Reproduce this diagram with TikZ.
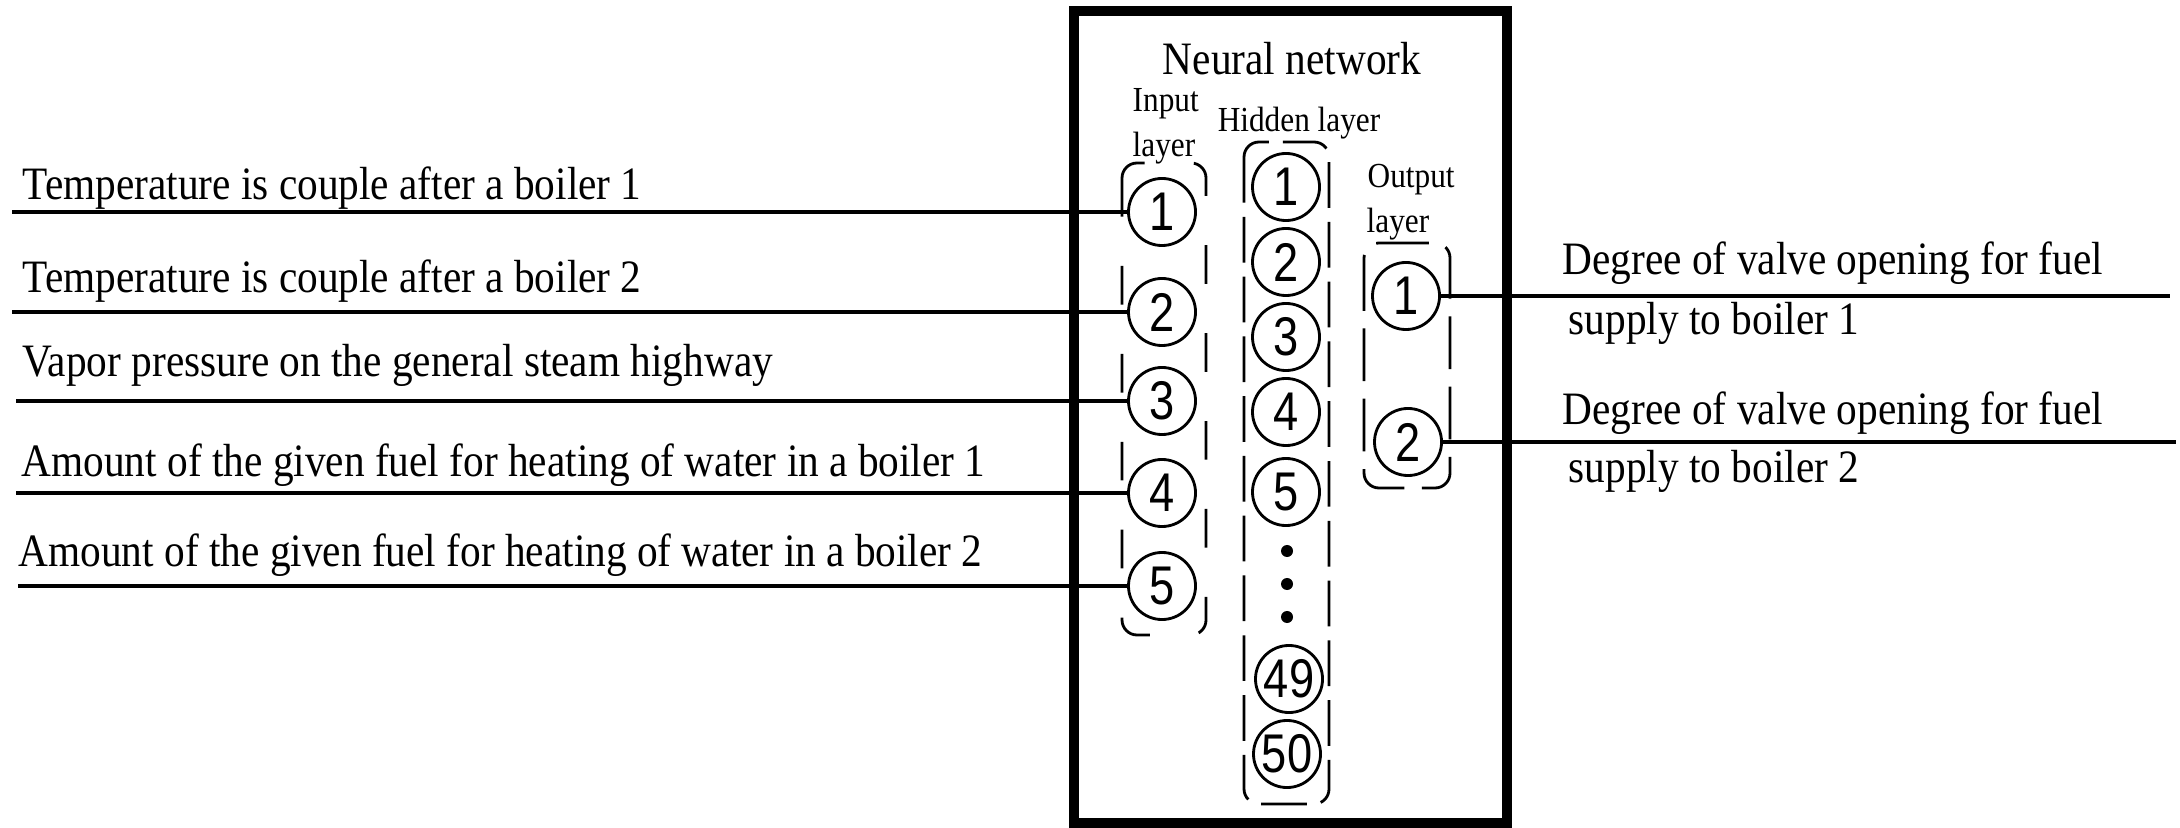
\documentclass[tikz,border=0pt]{standalone}
\usepackage{fontspec}
\setmainfont{Liberation Serif}[FakeStretch=0.89]
\newfontfamily\numfont{Liberation Sans}[FakeStretch=0.83]
\begin{document}
\begin{tikzpicture}[x=0.01cm,y=-0.01cm,
  frame/.style={line width=2.85pt},
  conn/.style={line width=1.4pt},
  neuron/.style={circle,draw,line width=0.8pt,minimum size=0.67cm,inner sep=0pt,
    font=\numfont\fontsize{15.5}{16}\selectfont},
  dot/.style={circle,fill,minimum size=0.12cm,inner sep=0pt},
  grp/.style={line width=0.8pt,rounded corners=0.15cm},
  txt/.style={anchor=base west,inner sep=0pt,font=\fontsize{13.2}{15}\selectfont},
  small/.style={inner sep=0pt,font=\fontsize{10}{12}\selectfont}]
\useasboundingbox (0,0) rectangle (2180,828);

% network frame
\draw[frame] (1074,11) rectangle (1507,823);
\node[txt,anchor=base] (title) at (1292,75) {Neural network};

% layer captions
\node[small,anchor=base west] (inA) at (1132,112) {Input};
\node[small,anchor=base west] (inB) at (1132,157) {layer};
\node[small,anchor=base] (hid) at (1299,132) {Hidden layer};
\node[small,anchor=base west] (outA) at (1367,188) {Output};
\node[small,anchor=base west] (outB) at (1366,233) {layer};

% layer groups
\draw[grp,dash pattern=on 11pt off 14pt] (1122,163) rectangle (1206,635);
\draw[grp,dash pattern=on 13pt off 4pt] (1244,142) rectangle (1329,804);
\draw[grp,dash pattern=on 15pt off 5pt] (1364,243) rectangle (1450,488);

% input neurons
\node[neuron] (i1) at (1162,212) {1};
\node[neuron] (i2) at (1162,312) {2};
\node[neuron] (i3) at (1162,401) {3};
\node[neuron] (i4) at (1162,493) {4};
\node[neuron] (i5) at (1162,586) {5};

% hidden neurons
\node[neuron] (h1) at (1286,187) {1};
\node[neuron] (h2) at (1286,262) {2};
\node[neuron] (h3) at (1286,337) {3};
\node[neuron] (h4) at (1286,412) {4};
\node[neuron] (h5) at (1286,492) {5};
\node[dot] (d1) at (1287,551) {};
\node[dot] (d2) at (1287,584) {};
\node[dot] (d3) at (1287,617) {};
\node[neuron] (h49) at (1289,679) {49};
\node[neuron] (h50) at (1287,754) {50};

% output neurons
\node[neuron] (o1) at (1406,296) {1};
\node[neuron] (o2) at (1408,442) {2};

% input signals
\coordinate (s1) at (12,212);
\coordinate (s2) at (12,312);
\coordinate (s3) at (16,401);
\coordinate (s4) at (16,493);
\coordinate (s5) at (18,586);
\draw[conn] (s1) -- (i1.west);
\draw[conn] (s2) -- (i2.west);
\draw[conn] (s3) -- (i3.west);
\draw[conn] (s4) -- (i4.west);
\draw[conn] (s5) -- (i5.west);
\node[txt] (t1) at (22,200) {Temperature is couple after a boiler 1};
\node[txt] (t2) at (22,293) {Temperature is couple after a boiler 2};
\node[txt] (t3) at (22,377) {Vapor pressure on the general steam highway};
\node[txt] (t4) at (21,477) {Amount of the given fuel for heating of water in a boiler 1};
\node[txt] (t5) at (18,567) {Amount of the given fuel for heating of water in a boiler 2};

% output signals
\coordinate (r1) at (2170,296);
\coordinate (r2) at (2176,442);
\draw[conn] (o1.east) -- (r1);
\draw[conn] (o2.east) -- (r2);
\node[txt] (u1) at (1562,275) {Degree of valve opening for fuel};
\node[txt] (u1b) at (1568,335) {supply to boiler 1};
\node[txt] (u2) at (1562,425) {Degree of valve opening for fuel};
\node[txt] (u2b) at (1568,482) {supply to boiler 2};
\end{tikzpicture}
\end{document}
